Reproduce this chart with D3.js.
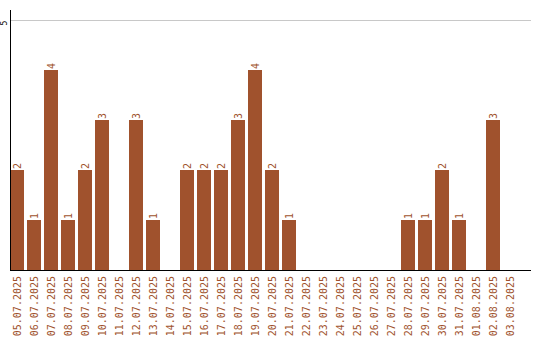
<!DOCTYPE html>
<html>
<head>
<meta charset="utf-8">
<script src="https://cdn.jsdelivr.net/npm/d3@7"></script>
<style>
  body { margin: 0; background: #fff; }
  text { font-family: "DejaVu Sans Mono", monospace; }
</style>
</head>
<body>
<div id="chart"></div>
<script>
// data
var dates = ["05.07.2025","06.07.2025","07.07.2025","08.07.2025","09.07.2025","10.07.2025",
  "11.07.2025","12.07.2025","13.07.2025","14.07.2025","15.07.2025","16.07.2025","17.07.2025",
  "18.07.2025","19.07.2025","20.07.2025","21.07.2025","22.07.2025","23.07.2025","24.07.2025",
  "25.07.2025","26.07.2025","27.07.2025","28.07.2025","29.07.2025","30.07.2025","31.07.2025",
  "01.08.2025","02.08.2025","03.08.2025"];
var counts = [2,1,4,1,2,3,0,3,1,0,2,2,2,3,4,2,1,0,0,0,0,0,0,1,1,2,1,0,3,0];
var yTicks = [5];

var width = 540, height = 340;
var barColor = '#a0522d';

var svg = d3.select("#chart")
  .append("svg")
  .attr("width", width)
  .attr("height", height);

// x band: step 17, bar 14
var x = d3.scaleBand()
  .domain(dates)
  .range([10, 517])
  .paddingInner(3 / 17)
  .paddingOuter(0);

var y = d3.scaleLinear()
  .domain([0, 5])
  .range([270, 20]);

// gridline
svg.selectAll("line.grid")
  .data(yTicks)
  .enter()
  .append("line")
  .attr("class", "grid")
  .attr("x1", 10)
  .attr("x2", 531)
  .attr("y1", function(d) { return y(d) + 0.5; })
  .attr("y2", function(d) { return y(d) + 0.5; })
  .style("stroke", "#c8c8c8")
  .style("stroke-width", 1);

// y tick labels (rotated)
svg.selectAll("text.ytick")
  .data(yTicks)
  .enter()
  .append("text")
  .attr("class", "ytick")
  .attr("transform", function(d) { return "translate(7," + (y(d) + 3) + ") rotate(-90)"; })
  .attr("text-anchor", "middle")
  .style("font-size", "8px")
  .style("fill", "#000")
  .text(function(d) { return d; });

// only non-zero days get a bar
var nz = counts.map(function(c, i) { return { date: dates[i], value: c }; })
  .filter(function(d) { return d.value > 0; });

svg.selectAll("rect.bar")
  .data(nz)
  .enter()
  .append("rect")
  .attr("class", "bar")
  .attr("x", function(d) { return x(d.date); })
  .attr("width", x.bandwidth())
  .attr("y", function(d) { return y(d.value); })
  .attr("height", function(d) { return y(0) - y(d.value); })
  .style("fill", barColor);

// value labels
svg.selectAll("text.val")
  .data(nz)
  .enter()
  .append("text")
  .attr("class", "val")
  .attr("transform", function(d) {
    return "translate(" + (x(d.date) + x.bandwidth() / 2 + 3.5) + "," + (y(d.value) - 1) + ") rotate(-90)";
  })
  .attr("text-anchor", "start")
  .style("font-size", "10px")
  .style("fill", barColor)
  .text(function(d) { return d.value; });

// axes lines
svg.append("line")
  .attr("x1", 10.5).attr("x2", 10.5)
  .attr("y1", 10).attr("y2", 270)
  .style("stroke", "#000").style("stroke-width", 1);

svg.append("line")
  .attr("x1", 10).attr("x2", 531)
  .attr("y1", 270.5).attr("y2", 270.5)
  .style("stroke", "#000").style("stroke-width", 1);

// x labels rotated
svg.selectAll("text.xlab")
  .data(dates)
  .enter()
  .append("text")
  .attr("class", "xlab")
  .attr("transform", function(d) {
    return "translate(" + (x(d) + x.bandwidth() / 2 + 3.5) + ",276) rotate(-90)";
  })
  .attr("text-anchor", "end")
  .style("font-size", "10px")
  .style("fill", barColor)
  .text(function(d) { return d; });
</script>
</body>
</html>
